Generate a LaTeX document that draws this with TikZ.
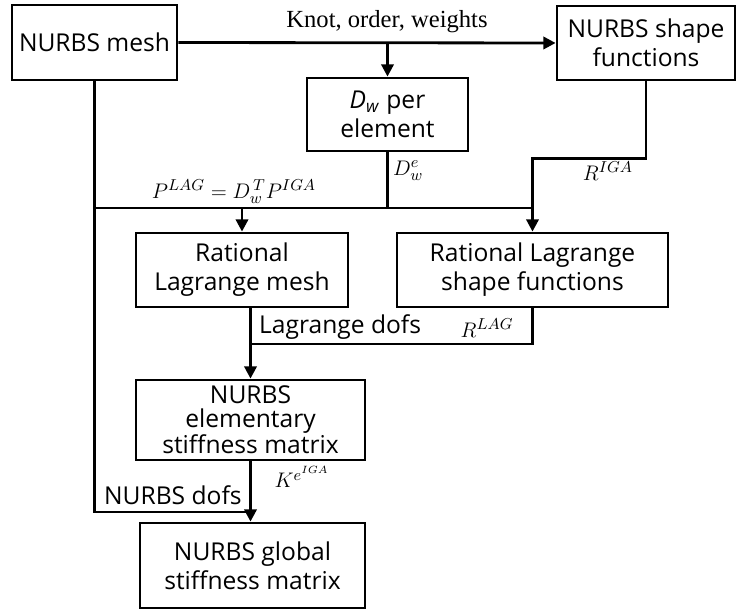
\documentclass[tikz,border=0pt]{standalone}
\usepackage{amsmath, amssymb}
\usepackage{fontspec}
\setmainfont{Liberation Serif}
\newfontfamily\boxfont{Open Sans}
\usepackage{tikz}
\usetikzlibrary{arrows.meta}

\tikzset{
    box/.style={draw, line width=1.6pt, align=center, font=\boxfont\fontsize{14}{16.5}\selectfont, inner sep=2pt},
    link/.style={line width=1.6pt},
    lbl/.style={font=\fontsize{14}{16}\selectfont, inner sep=1pt},
    mathlbl/.style={font=\fontsize{12.5}{14}\selectfont, inner sep=1pt},
    sflbl/.style={font=\boxfont\fontsize{14}{16}\selectfont, inner sep=1pt},
    >={Triangle[length=7pt,width=7pt]}
}

\begin{document}
\begin{tikzpicture}[x=0.02cm, y=-0.02cm]
    \useasboundingbox (0,0) rectangle (740,612);
    % boxes
    \node[box, minimum width=3.3cm, minimum height=1.5cm] (mesh) at (94.5,42.5) {NURBS mesh};
    \node[box, minimum width=3.56cm, minimum height=1.48cm] (shape) at (646,43) {NURBS shape\\functions};
    \node[box, minimum width=3.22cm, minimum height=1.46cm] (dw) at (387.5,114.5) {\textit{D}\textsubscript{\textit{w}} per\\element};
    \node[box, minimum width=4.24cm, minimum height=1.48cm] (ratmesh) at (242,270) {Rational\\Lagrange mesh};
    \node[box, minimum width=5.42cm, minimum height=1.48cm] (ratshape) at (532.5,270) {Rational Lagrange\\shape functions};
    \node[box, minimum width=4.58cm, minimum height=1.6cm, font=\boxfont\fontsize{14}{13.2}\selectfont] (elem) at (250.5,420) {NURBS\\elementary\\stiffness matrix};
    \node[box, minimum width=4.5cm, minimum height=1.7cm] (glob) at (252.5,565.5) {NURBS global\\stiffness matrix};

    \coordinate (bus) at (93,208);
    \coordinate (lagjoin) at (251,344);
    \coordinate (dofs) at (252,512);

    % connectors
    \draw[link,->] (mesh.east) -- (shape.west);
    \draw[link,->] (dw.north |- mesh.east) -- (dw.north);
    \draw[link] (mesh.south) |- (dofs);
    \draw[link] (bus) -- (ratshape.north |- bus);
    \draw[link] (dw.south) -- (dw.south |- bus);
    \draw[link,->] (ratmesh.north |- bus) -- (ratmesh.north);
    \draw[link,->] (shape.south) -- ++(0,77) -| (ratshape.north);
    \draw[link] (ratshape.south) |- (lagjoin);
    \draw[link,->] (ratmesh.south -| elem.north) -- (elem.north);
    \draw[link,->] (elem.south) -- (elem.south |- glob.north);

    % labels
    \node[lbl] (knot) at (387,22) {Knot, order, weights};
    \node[mathlbl] (plag) at (234,192) {$P^{LAG} = D_w^{\,T} P^{IGA}$};
    \node[mathlbl, anchor=west] (dwe) at (391,171) {$D_w^e$};
    \node[mathlbl] (riga) at (608,171) {$R^{IGA}$};
    \node[sflbl, anchor=west] (lagdofs) at (257,327) {Lagrange dofs};
    \node[mathlbl] (rlag) at (487,328) {$R^{LAG}$};
    \node[mathlbl] (kel) at (302,477) {$K^{e^{IGA}}$};
    \node[sflbl, anchor=west] (nurbsdofs) at (102,495) {NURBS dofs};
\end{tikzpicture}
\end{document}
